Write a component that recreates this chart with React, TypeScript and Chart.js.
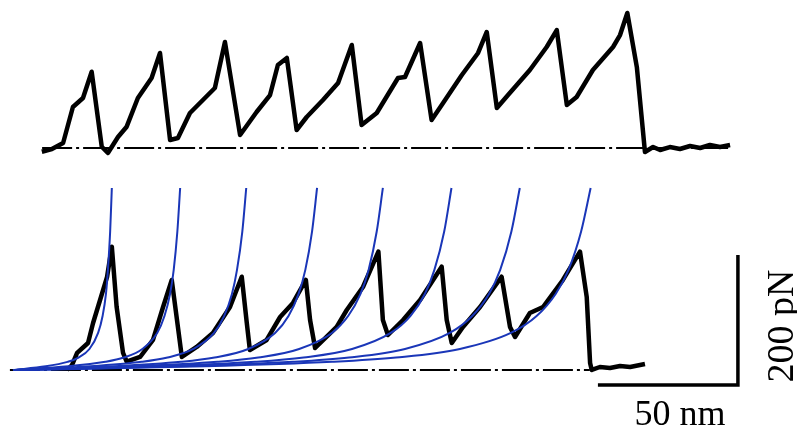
import React, { useEffect, useRef } from "react";
import { Chart, registerables } from "chart.js";

Chart.register(...registerables);

// Extension in nm, force in pN
const topExt = [10.3, 13.9, 17.9, 21.4, 25.0, 28.1, 31.7, 33.9, 37.5, 40.6, 44.6, 49.5, 52.5, 56.1, 58.9, 63.2, 72.1, 75.7, 81.1, 87.0, 91.8, 94.6, 97.8, 101.3, 104.9, 110.7, 116.1, 121.0, 124.5, 129.9, 137.5, 140.0, 145.4, 149.5, 153.6, 160.3, 166.1, 169.2, 172.8, 176.8, 184.6, 190.6, 194.2, 197.8, 201.3, 207.1, 214.3, 216.8, 219.4, 222.8, 225.7, 228.6, 231.1, 234.6, 238.2, 241.8, 245.4, 248.9, 252.5, 256.1];
const topForce = [-5.7, -1.5, 7.7, 63.1, 76.9, 117.4, 2.0, -7.7, 16.9, 32.8, 76.9, 107.7, 146.2, 12.3, 15.4, 53.8, 92.3, 163.1, 20.0, 55.4, 81.5, 127.7, 138.5, 27.7, 47.7, 73.8, 100.0, 158.5, 35.4, 53.8, 107.7, 109.2, 161.5, 43.1, 69.2, 112.3, 146.2, 178.5, 61.5, 81.5, 120.0, 155.4, 181.5, 66.2, 78.5, 120.0, 155.4, 173.8, 207.7, 124.6, -6.2, 1.5, -3.1, 1.5, -1.5, 3.1, 0.0, 4.6, 1.5, 4.6];

const bottomExt = [19.3, 21.1, 22.9, 26.8, 28.6, 31.1, 33.6, 35.3, 37.0, 39.3, 40.6, 45.4, 50.0, 53.6, 56.7, 58.9, 60.3, 65.6, 71.4, 77.5, 81.7, 83.5, 84.6, 90.6, 95.4, 100.0, 104.6, 106.1, 107.9, 115.6, 119.2, 125.0, 130.5, 132.1, 133.9, 139.3, 145.4, 153.1, 154.9, 156.7, 160.7, 166.8, 174.5, 177.5, 179.3, 184.6, 189.3, 196.4, 202.5, 204.9, 206.1, 206.7, 209.6, 213.2, 216.8, 220.4, 225.7];
const bottomForce = [0.0, 7.7, 26.2, 41.5, 72.3, 107.7, 143.1, 189.7, 97.4, 26.2, 12.8, 20.0, 46.2, 96.9, 138.5, 66.2, 20.0, 35.4, 56.9, 96.9, 143.5, 72.3, 30.8, 46.2, 81.5, 103.1, 138.5, 76.9, 33.8, 66.2, 92.3, 127.7, 182.0, 76.9, 53.8, 76.9, 107.7, 158.9, 76.9, 41.5, 66.2, 96.9, 143.5, 66.2, 50.8, 87.7, 96.9, 138.5, 182.0, 112.3, 10.8, 0.0, 4.6, 3.1, 6.2, 4.6, 9.2];

// Worm-like-chain fit curves
const fitForce = [0, 5.6, 12.5, 19.1, 32.3, 57, 83, 117, 154, 213, 280];
const fit1Ext = [0, 11.7, 19.5, 23.4, 27.3, 30.4, 32.0, 33.2, 33.9, 34.7, 35.3];
const fit2Ext = [0, 19.8, 33.0, 39.6, 46.2, 51.5, 54.1, 56.1, 57.4, 58.7, 59.7];
const fit3Ext = [0, 27.6, 46.0, 55.2, 64.4, 71.8, 75.4, 78.2, 80.0, 81.9, 83.3];
const fit4Ext = [0, 36.0, 60.0, 72.0, 84.0, 93.6, 98.4, 102.0, 104.4, 106.8, 108.6];
const fit5Ext = [0, 43.8, 73.0, 87.6, 102.2, 113.9, 119.7, 124.1, 127.0, 129.9, 132.1];
const fit6Ext = [0, 51.9, 86.5, 103.8, 121.1, 134.9, 141.9, 147.1, 150.5, 154.0, 156.6];
const fit7Ext = [0, 60.0, 100.0, 120.0, 140.0, 156.0, 164.0, 170.0, 174.0, 178.0, 181.0];
const fit8Ext = [0, 68.4, 114.0, 136.8, 159.6, 177.8, 187.0, 193.8, 198.4, 202.9, 206.3];

const topBaselineExt = [10.4, 256.0];
const bottomBaselineExt = [-1.1, 206.0];

const scaleBarExt = [208.9, 258.9, 258.9];
const scaleBarForce = [-23.1, -23.1, 176.9];
const scaleXLabel = "50 nm";
const scaleYLabel = "200 pN";

const pts = (xs: number[], ys: number[]) => xs.map((x, i) => ({ x, y: ys[i] }));

const BLUE = "#1a36b8";

export default function App() {
  const ref = useRef<HTMLCanvasElement | null>(null);

  useEffect(() => {
    if (!ref.current) return;
    const fits = [fit1Ext, fit2Ext, fit3Ext, fit4Ext, fit5Ext, fit6Ext, fit7Ext, fit8Ext];
    const labelPlugin = {
      id: "scaleLabels",
      afterDatasetsDraw(chart: any) {
        const { ctx, scales } = chart;
        const xs = scales.x;
        const ys = scales.y;
        const barX0 = xs.getPixelForValue(scaleBarExt[0]);
        const barX1 = xs.getPixelForValue(scaleBarExt[1]);
        const barY0 = ys.getPixelForValue(scaleBarForce[0]);
        const barY1 = ys.getPixelForValue(scaleBarForce[2]);
        ctx.save();
        ctx.fillStyle = "#000";
        ctx.font = '36px "Liberation Serif", "DejaVu Serif", serif';
        ctx.textAlign = "center";
        ctx.textBaseline = "alphabetic";
        ctx.fillText(scaleXLabel, (barX0 + barX1) / 2 + 12, barY0 + 40);
        ctx.translate(barX1 + 55, (barY0 + barY1) / 2 + 6);
        ctx.rotate(-Math.PI / 2);
        ctx.font = '38px "Liberation Serif", "DejaVu Serif", serif';
        ctx.fillText(scaleYLabel, 0, 0);
        ctx.restore();
      },
    };

    const datasets: any[] = [];
    fits.forEach((f, i) => {
      datasets.push({
        label: "fit" + (i + 1),
        data: pts(f, fitForce),
        borderColor: BLUE,
        borderWidth: 2,
        cubicInterpolationMode: "monotone",
        yAxisID: "y",
        order: 0,
      });
    });
    datasets.push({
      label: "bottom",
      data: pts(bottomExt, bottomForce),
      borderColor: "#000",
      borderWidth: 4.5,
      yAxisID: "y",
      order: 1,
    });
    datasets.push({
      label: "top",
      data: pts(topExt, topForce),
      borderColor: "#000",
      borderWidth: 4.5,
      yAxisID: "y2",
      order: 1,
    });
    datasets.push({
      label: "topBase",
      data: pts(topBaselineExt, [0, 0]),
      borderColor: "#000",
      borderWidth: 2,
      borderDash: [30, 4, 3, 4],
      yAxisID: "y2",
      order: 2,
    });
    datasets.push({
      label: "bottomBase",
      data: pts(bottomBaselineExt, [0, 0]),
      borderColor: "#000",
      borderWidth: 2,
      borderDash: [30, 4, 3, 4],
      yAxisID: "y",
      order: 2,
    });
    datasets.push({
      label: "scalebar",
      data: pts(scaleBarExt, scaleBarForce),
      borderColor: "#000",
      borderWidth: 3.5,
      borderJoinStyle: "miter",
      yAxisID: "y",
      order: 1,
    });

    const chart = new Chart(ref.current, {
      type: "line",
      data: { datasets },
      options: {
        animation: false,
        responsive: false,
        maintainAspectRatio: false,
        layout: { padding: 0 },
        elements: {
          point: { radius: 0, hoverRadius: 0 },
          line: { tension: 0, borderJoinStyle: "round", borderCapStyle: "butt", fill: false },
        },
        plugins: { legend: { display: false }, tooltip: { enabled: false } },
        scales: {
          x: { type: "linear", min: -4.64, max: 280, display: false },
          y: { type: "linear", min: -103.1, max: 569.2, display: false },
          y2: { type: "linear", min: -444.6, max: 227.7, display: false },
        },
      },
      plugins: [labelPlugin],
    });
    return () => chart.destroy();
  }, []);

  return (
    <div style={{ position: "absolute", left: 0, top: 0, width: 797, height: 437, background: "#fff" }}>
      <canvas ref={ref} width={797} height={437} />
    </div>
  );
}
